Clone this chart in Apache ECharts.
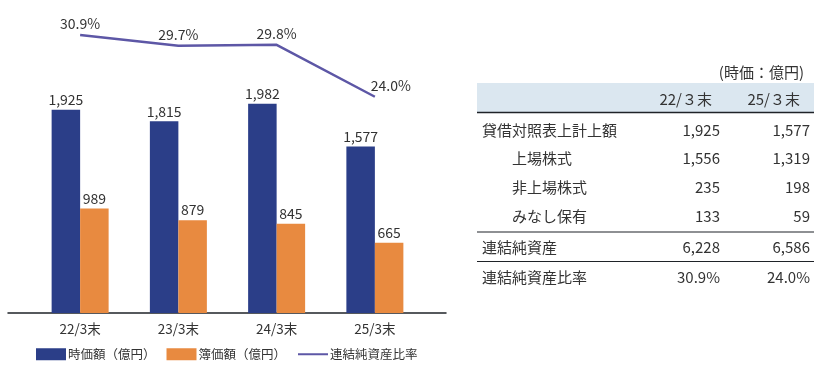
<!DOCTYPE html>
<html><head><meta charset="utf-8">
<script src="https://cdn.jsdelivr.net/npm/echarts@6/dist/echarts.min.js"></script>
<style>html,body{margin:0;padding:0;background:#fff}#c{width:820px;height:370px}</style>
</head><body><div id="c"></div>
<script>
const categories = ['22/3末', '23/3末', '24/3末', '25/3末'];
const marketValue = [1925, 1815, 1982, 1577];
const bookValue = [989, 879, 845, 665];
const netAssetRatio = [30.9, 29.7, 29.8, 24.0];
const seriesNames = ['時価額（億円）', '簿価額（億円）', '連結純資産比率'];

const tableUnit = '(時価：億円)';
const tableHeader = ['', '22/３末', '25/３末'];
const tableLabels = ['貸借対照表上計上額', '上場株式', '非上場株式', 'みなし保有', '連結純資産', '連結純資産比率'];
const tableIndent = [false, true, true, true, false, false];
const tableCol1 = ['1,925', '1,556', '235', '133', '6,228', '30.9%'];
const tableCol2 = ['1,577', '1,319', '198', '59', '6,586', '24.0%'];

const FONT = '"Noto Sans CJK JP", "Noto Sans", sans-serif';
const TXT = '#333333';
const BLUE = '#2b3e88';
const ORANGE = '#e88a40';
const PURPLE = '#5d57a6';

// table graphics
const g = [];
const L = 477, R = 814;
g.push({type:'text', x: 804, y: 72, style:{text: tableUnit, font: '15px ' + FONT, fill: TXT, align:'right', verticalAlign:'middle'}});
g.push({type:'rect', shape:{x:L, y:83, width:R-L, height:29}, style:{fill:'#dbe7f0'}});
g.push({type:'line', shape:{x1:L, y1:112.5, x2:R, y2:112.5}, style:{stroke:'#1f2328', lineWidth:1.5}});
g.push({type:'text', x:712, y:99, style:{text: tableHeader[1], font:'15px ' + FONT, fill:TXT, align:'right', verticalAlign:'middle'}});
g.push({type:'text', x:800, y:99, style:{text: tableHeader[2], font:'15px ' + FONT, fill:TXT, align:'right', verticalAlign:'middle'}});
const rowY = [130, 158.5, 187, 216.5, 247, 277];
tableLabels.forEach((lab, i) => {
  g.push({type:'text', x: tableIndent[i] ? 512 : 482, y: rowY[i], style:{text: lab, font:'15px ' + FONT, fill:TXT, verticalAlign:'middle'}});
  g.push({type:'text', x: 720, y: rowY[i], style:{text: tableCol1[i], font:'15px ' + FONT, fill:TXT, align:'right', verticalAlign:'middle'}});
  g.push({type:'text', x: 810, y: rowY[i], style:{text: tableCol2[i], font:'15px ' + FONT, fill:TXT, align:'right', verticalAlign:'middle'}});
});
g.push({type:'line', shape:{x1:L, y1:232, x2:R, y2:232}, style:{stroke:'#1f2328', lineWidth:1.2}});
g.push({type:'line', shape:{x1:L, y1:261.5, x2:R, y2:261.5}, style:{stroke:'#1f2328', lineWidth:1.2}});

const chart = echarts.init(document.getElementById('c'), null, {renderer:'canvas'});
chart.setOption({
  animation: false,
  textStyle: {fontFamily: FONT},
  graphic: g,
  legend: {
    left: 36, top: 348, padding: 0, itemGap: 11, itemWidth: 30, itemHeight: 12,
    textStyle: {fontSize: 12.5, color: TXT, fontFamily: FONT, padding: [0,0,0,-3]},
    data: [
      {name: seriesNames[0], icon: 'rect'},
      {name: seriesNames[1], icon: 'rect'},
      {name: seriesNames[2], itemStyle: {opacity: 0}}
    ]
  },
  grid: [
    {left: 31, width: 393, top: 49, height: 264},
    {left: 31, width: 393, top: 25.2, height: 107.3},
    {left: 8, width: 438, top: 49, height: 264}
  ],
  xAxis: [
    {type:'category', data: categories, gridIndex: 0, axisLine:{show:false}, axisTick:{show:false},
     axisLabel:{color: TXT, fontSize: 13.5, fontFamily: FONT, margin: 9}},
    {type:'category', data: categories, gridIndex: 1, show: false},
    {type:'value', gridIndex: 2, min: 0, max: 1, axisLine:{show:true, onZero:false, lineStyle:{color:'#1f2328', width:1.5}},
     axisTick:{show:false}, axisLabel:{show:false}, splitLine:{show:false}}
  ],
  yAxis: [
    {type:'value', gridIndex: 0, min: 0, max: 2500, show: false},
    {type:'value', gridIndex: 1, min: 20, max: 32, show: false},
    {type:'value', gridIndex: 2, min: 0, max: 1, show: false}
  ],
  series: [
    {name: seriesNames[0], type:'bar', xAxisIndex:0, yAxisIndex:0, data: marketValue,
     barWidth: 28.5, barGap: '0%', itemStyle:{color: BLUE},
     label:{show:true, position:'top', distance: 3, color: TXT, fontSize: 14, fontFamily: FONT,
       formatter: p => p.value.toLocaleString('en-US')}},
    {name: seriesNames[1], type:'bar', xAxisIndex:0, yAxisIndex:0, data: bookValue,
     barWidth: 28.5, barGap: '0%', itemStyle:{color: ORANGE},
     label:{show:true, position:'top', distance: 3, color: TXT, fontSize: 14, fontFamily: FONT,
       formatter: p => p.value.toLocaleString('en-US')}},
    {name: seriesNames[2], type:'line', xAxisIndex:1, yAxisIndex:1,
     data: netAssetRatio.map((v, i) => i === netAssetRatio.length - 1
        ? {value: v, label: {offset: [16, 0]}} : v),
     symbol: 'circle', symbolSize: 0.1, showSymbol: true,
     lineStyle:{color: PURPLE, width: 2.5}, itemStyle:{color: PURPLE},
     label:{show:true, position:'top', distance: 4, color: TXT, fontSize: 14, fontFamily: FONT,
       formatter: p => p.value.toFixed(1) + '%'}}
  ]
});
</script></body></html>
